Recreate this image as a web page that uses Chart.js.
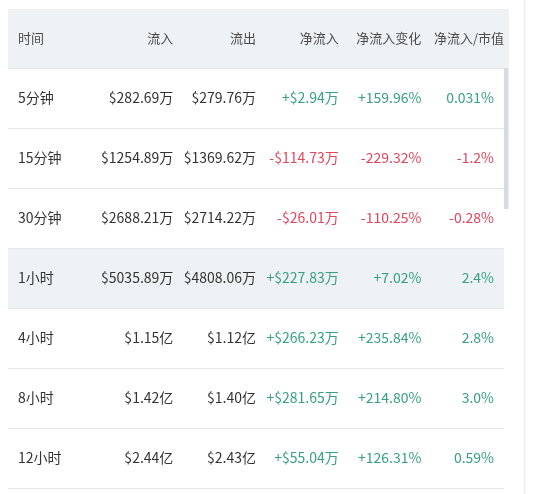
<!DOCTYPE html>
<html>
<head>
<meta charset="utf-8">
<script src="https://cdn.jsdelivr.net/npm/chart.js@4.4.1/dist/chart.umd.min.js"></script>
<style>
  html, body { margin: 0; padding: 0; background: #fff; }
  #wrap { width: 534px; height: 494px; }
</style>
</head>
<body>
<div id="wrap"><canvas id="myChart" width="534" height="494"></canvas></div>
<script>
// table data
var columns = ['时间', '流入', '流出', '净流入', '净流入变化', '净流入/市值'];
var periods = ['5分钟', '15分钟', '30分钟', '1小时', '4小时', '8小时', '12小时'];
var inflow = ['$282.69万', '$1254.89万', '$2688.21万', '$5035.89万', '$1.15亿', '$1.42亿', '$2.44亿'];
var outflow = ['$279.76万', '$1369.62万', '$2714.22万', '$4808.06万', '$1.12亿', '$1.40亿', '$2.43亿'];
var netFlow = ['+$2.94万', '-$114.73万', '-$26.01万', '+$227.83万', '+$266.23万', '+$281.65万', '+$55.04万'];
var netChange = ['+159.96%', '-229.32%', '-110.25%', '+7.02%', '+235.84%', '+214.80%', '+126.31%'];
var netToCap = ['0.031%', '-1.2%', '-0.28%', '2.4%', '2.8%', '3.0%', '0.59%'];
var highlightRow = '1小时';

var HEAD = 'head';
var rowLabels = [HEAD].concat(periods);
var colValues = [periods, inflow, outflow, netFlow, netChange, netToCap];
var signed = [false, false, false, true, true, true];

var GREEN = '#37a07f', RED = '#e2455a', TEXT = '#333333', HEAD_TEXT = '#4a4a4a';
var FONT = "'Noto Sans CJK SC', 'Noto Sans', sans-serif";

// one dataset per column, one point per cell
var datasets = columns.map(function (col, c) {
    return {
        label: col,
        data: periods.map(function (p, r) { return { x: col, y: p, text: colValues[c][r] }; }),
        pointRadius: 0,
        pointHoverRadius: 0
    };
});

var tablePlugin = {
    id: 'table',
    beforeDraw: function (chart) {
        var ctx = chart.ctx, area = chart.chartArea, ys = chart.scales.y;
        var band = ys.getPixelForValue(1) - ys.getPixelForValue(0);
        ctx.save();
        // header background
        var hy = ys.getPixelForValue(0) - band / 2;
        ctx.fillStyle = '#eff2f5';
        ctx.fillRect(area.left, hy + 1, area.right - area.left + 5, band - 1);
        // highlighted row
        var ri = rowLabels.indexOf(highlightRow);
        var ry = ys.getPixelForValue(ri) - band / 2;
        ctx.fillStyle = '#eef2f4';
        ctx.fillRect(area.left, ry, area.right - area.left, band);
        // scrollbar thumb
        ctx.fillStyle = '#d6d9e6';
        ctx.fillRect(area.right, hy + band, 4.5, band * 2.35);
        // right divider
        ctx.fillStyle = '#eceef0';
        ctx.fillRect(area.right + 20, 0, 1.5, chart.height);
        ctx.restore();
    },
    afterDatasetsDraw: function (chart) {
        var ctx = chart.ctx, xs = chart.scales.x, ys = chart.scales.y;
        var half = (xs.getPixelForValue(1) - xs.getPixelForValue(0)) / 2;
        ctx.save();
        ctx.textBaseline = 'middle';
        // header
        ctx.font = '13px ' + FONT;
        ctx.fillStyle = HEAD_TEXT;
        columns.forEach(function (col, c) {
            var cx = xs.getPixelForValue(c), cy = ys.getPixelForValue(0);
            if (c === 0) { ctx.textAlign = 'left'; ctx.fillText(col, cx - half + 10, cy); }
            else { ctx.textAlign = 'right'; ctx.fillText(col, cx + half, cy); }
        });
        // cells
        ctx.font = '14px ' + FONT;
        chart.data.datasets.forEach(function (ds, c) {
            var meta = chart.getDatasetMeta(c);
            meta.data.forEach(function (pt, r) {
                var t = ds.data[r].text;
                ctx.fillStyle = signed[c] ? (t.charAt(0) === '-' ? RED : GREEN) : TEXT;
                if (c === 0) { ctx.textAlign = 'left'; ctx.fillText(t, pt.x - half + 10, pt.y); }
                else if (c === columns.length - 1) { ctx.textAlign = 'right'; ctx.fillText(t, pt.x + half - 10, pt.y); }
                else { ctx.textAlign = 'right'; ctx.fillText(t, pt.x + half, pt.y); }
            });
        });
        ctx.restore();
    }
};

var canvas = document.getElementById('myChart');
new Chart(canvas, {
    type: 'scatter',
    data: { datasets: datasets },
    options: {
        responsive: false,
        animation: false,
        events: [],
        layout: { padding: { left: 8, right: 30, top: 8, bottom: 6 } },
        plugins: { legend: { display: false }, tooltip: { enabled: false } },
        scales: {
            x: {
                type: 'category',
                labels: columns,
                offset: true,
                display: false
            },
            y: {
                type: 'category',
                labels: rowLabels,
                offset: true,
                border: { display: false },
                ticks: { display: false },
                grid: {
                    offset: true,
                    lineWidth: 1,
                    drawTicks: false,
                    color: function (c) { return c.index === 0 ? 'rgba(0,0,0,0)' : '#e4e6e9'; }
                }
            }
        }
    },
    plugins: [tablePlugin]
});
</script>
</body>
</html>
